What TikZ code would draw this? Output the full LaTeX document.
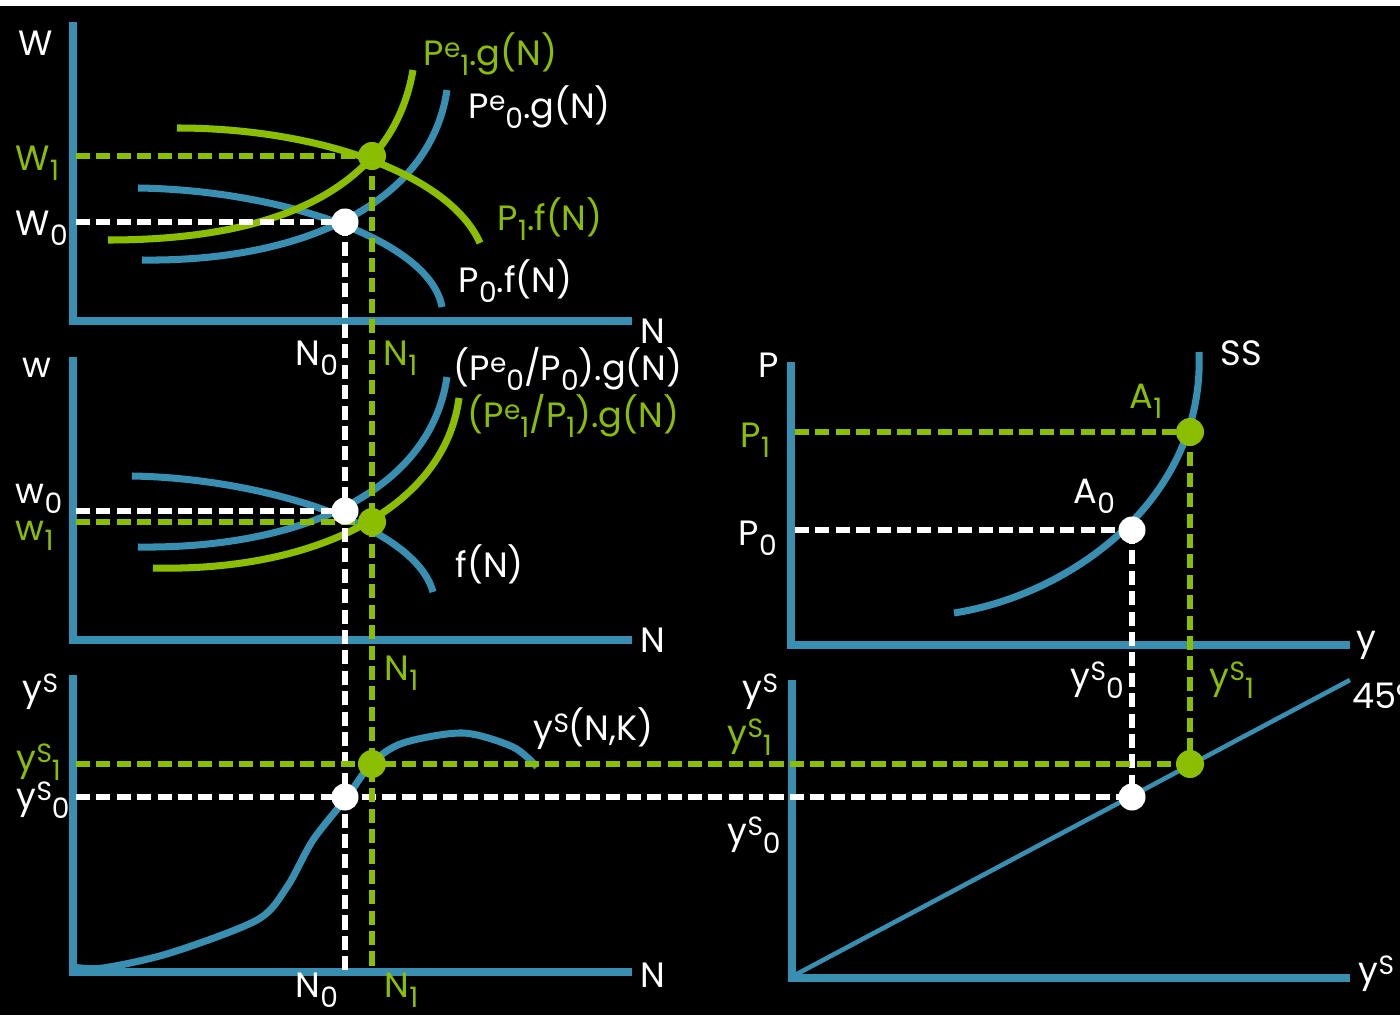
\documentclass[tikz,border=0pt]{standalone}
\usepackage{fontspec}
\setmainfont{Poppins}
\usepackage{xcolor}
\usepackage{tikz}
\usetikzlibrary{calc, positioning}

\definecolor{axisblue}{RGB}{56,143,178}
\definecolor{limegreen}{RGB}{140,190,0}
\newcommand{\lo}[1]{\raisebox{-3pt}{\fontsize{8}{9}\selectfont #1}}
\newcommand{\hi}[1]{\raisebox{2.2pt}{\fontsize{7.5}{9}\selectfont #1}}

\begin{document}
\begin{tikzpicture}[x=0.01cm, y=-0.01cm, font=\fontsize{10}{12}\selectfont,
    axis/.style={axisblue, line width=2pt},
    bcurve/.style={axisblue, line width=2pt},
    gcurve/.style={limegreen, line width=2pt},
    wdash/.style={white, line width=1.5pt, dash pattern=on 4pt off 1.8pt},
    gdash/.style={limegreen, line width=1.5pt, dash pattern=on 4pt off 1.8pt},
    wdot/.style={circle, fill=white, inner sep=0pt, minimum size=0.27cm},
    gdot/.style={circle, fill=limegreen, inner sep=0pt, minimum size=0.28cm},
    wlab/.style={text=white, anchor=base west, inner sep=0pt},
    glab/.style={text=limegreen, anchor=base west, inner sep=0pt}]
    % Nền
    \useasboundingbox (0,0) rectangle (1400,1015);
    \fill[black] (0,6) rectangle (1400,1015);

    % Hệ trục
    \draw[axis] (73,22) -- (73,321) -- (632,321);
    \draw[axis] (73,357) -- (73,640) -- (632,640);
    \draw[axis] (73,675) -- (73,972) -- (632,972);
    \draw[axis] (791,362) -- (791,645) -- (1350,645);
    \draw[axis] (792,680) -- (792,978) -- (1350,978);
    \draw[axisblue, line width=1.3pt] (795,975) -- (1350,680);

    % Đường cong: thị trường lao động
    \draw[bcurve] (142,260) .. controls (300,262) and (430,205) .. (447,90);
    \draw[bcurve] (138,188) .. controls (280,190) and (430,240) .. (442,307);
    \draw[gcurve] (108,240) .. controls (300,240) and (395,175) .. (413,70);
    \draw[gcurve] (177,128) .. controls (320,128) and (450,175) .. (480,243);

    % Đường cong: tiền lương thực
    \draw[bcurve] (138,547) .. controls (300,549) and (430,492) .. (447,377);
    \draw[bcurve] (132,476) .. controls (260,478) and (415,525) .. (433,592);
    \draw[gcurve] (153,568) .. controls (320,572) and (445,505) .. (459,398);

    % Hàm sản xuất
    \draw[bcurve, smooth] plot coordinates {(73,967) (103,968) (170,953) (257,920) (287,887) (313,840) (347,797) (372,763) (403,743) (463,733) (513,747) (537,767)};

    % Tổng cung SS
    \draw[bcurve] (954,613) .. controls (1070,595) and (1205,500) .. (1199,352);

    % Điểm cân bằng
    \coordinate (e0) at (345,222);
    \coordinate (e1) at (372,156);
    \coordinate (r0) at (345,511);
    \coordinate (r1) at (372,522);
    \coordinate (q0) at (345,797);
    \coordinate (q1) at (372,764);
    \coordinate (a0) at (1132,530);
    \coordinate (a1) at (1190,432);
    \coordinate (s0) at (1132,797);
    \coordinate (s1) at (1190,764);
    \coordinate (n0) at (345,970);
    \coordinate (n1) at (372,970);

    % Đường gióng
    \draw[wdash] (76,222) -- (e0);
    \draw[wdash] (76,511) -- (r0);
    \draw[wdash] (76,797) -- (s0);
    \draw[wdash] (795,530) -- (a0);
    \draw[wdash] (e0) -- (n0);
    \draw[wdash] (a0) -- (s0);
    \draw[gdash] (76,156) -- (e1);
    \draw[gdash] (76,522) -- (r1);
    \draw[gdash] (76,764) -- (s1);
    \draw[gdash] (795,432) -- (a1);
    \draw[gdash] (e1) -- (n1);
    \draw[gdash] (a1) -- (s1);

    \node[wdot] (E0) at (e0) {};
    \node[gdot] (E1) at (e1) {};
    \node[wdot] (R0) at (r0) {};
    \node[gdot] (R1) at (r1) {};
    \node[wdot] (Q0) at (q0) {};
    \node[gdot] (Q1) at (q1) {};
    \node[wdot] (A0) at (a0) {};
    \node[gdot] (A1) at (a1) {};
    \node[wdot] (S0) at (s0) {};
    \node[gdot] (S1) at (s1) {};

    % Nhãn: hình trên
    \node[wlab] (labW) at (18,55) {W};
    \node[glab] (labW1) at (15,170) {W\lo{1}};
    \node[wlab] (labW0) at (15,235) {W\lo{0}};
    \node[glab] (labPe1g) at (423,65) {P\hi{e}\lo{1}.g(N)};
    \node[wlab] (labPe0g) at (468,118) {P\hi{e}\lo{0}.g(N)};
    \node[glab] (labP1f) at (497,230) {P\lo{1}.f(N)};
    \node[wlab] (labP0f) at (458,292) {P\lo{0}.f(N)};
    \node[wlab] (labNa) at (640,343) {N};
    \node[wlab] (labN0a) at (295,365) {N\lo{0}};
    \node[glab] (labN1a) at (383,365) {N\lo{1}};

    % Nhãn: hình giữa
    \node[wlab] (labw) at (22,377) {w};
    \node[wlab] (labw0) at (15,503) {w\lo{0}};
    \node[glab] (labw1) at (15,540) {w\lo{1}};
    \node[wlab] (labg0) at (453,380) {(P\hi{e}\lo{0}/P\lo{0}).g(N)};
    \node[glab] (labg1) at (467,427) {(P\hi{e}\lo{1}/P\lo{1}).g(N)};
    \node[wlab] (labf) at (455,577) {f(N)};
    \node[wlab] (labNb) at (640,652) {N};
    \node[glab] (labN1b) at (384,680) {N\lo{1}};

    % Nhãn: hình dưới
    \node[wlab] (labys) at (22,700) {y\hi{S}};
    \node[glab] (labys1) at (16,770) {y\hi{S}\lo{1}};
    \node[wlab] (labys0) at (16,808) {y\hi{S}\lo{0}};
    \node[wlab] (labyNK) at (533,740) {y\hi{S}(N,K)};
    \node[wlab] (labNc) at (640,987) {N};
    \node[wlab] (labN0c) at (295,997) {N\lo{0}};
    \node[glab] (labN1c) at (384,997) {N\lo{1}};

    % Nhãn: hình bên phải
    \node[wlab] (labP) at (758,377) {P};
    \node[glab] (labP1) at (740,447) {P\lo{1}};
    \node[wlab] (labP0) at (738,545) {P\lo{0}};
    \node[wlab] (labSS) at (1220,365) {SS};
    \node[glab] (labA1) at (1129,408) {A\lo{1}};
    \node[wlab] (labA0) at (1073,503) {A\lo{0}};
    \node[wlab] (laby) at (1356,650) {y};
    \node[wlab] (labysv) at (742,700) {y\hi{S}};
    \node[glab] (labys1v) at (727,745) {y\hi{S}\lo{1}};
    \node[wlab] (labys0v) at (727,843) {y\hi{S}\lo{0}};
    \node[wlab] (labys0h) at (1070,688) {y\hi{S}\lo{0}};
    \node[glab] (labys1h) at (1209,688) {y\hi{S}\lo{1}};
    \node[wlab] (lab45) at (1352,708) {45°};
    \node[wlab] (labysh) at (1358,982) {y\hi{S}};
\end{tikzpicture}
\end{document}
